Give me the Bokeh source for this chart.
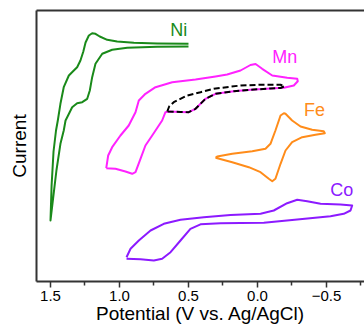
from bokeh.plotting import figure
from bokeh.models import Range1d, FixedTicker, LinearAxis, CustomJSTickFormatter, ColumnDataSource
from bokeh.core.properties import value
from bokeh.embed import file_html
from bokeh.resources import INLINE

FONT = "Liberation Sans"

# Potential (V vs. Ag/AgCl) and current (a.u.)
ni_E = [0.500, 0.727, 0.896, 1.017, 1.089, 1.143, 1.174, 1.198, 1.222, 1.246, 1.262, 1.283,
        1.307, 1.331, 1.367, 1.404, 1.428, 1.447, 1.460, 1.478, 1.492, 1.500,
        1.480, 1.457, 1.428, 1.404, 1.391, 1.379, 1.343, 1.307, 1.270, 1.234, 1.215,
        1.198, 1.174, 1.125, 1.053, 0.944, 0.727, 0.500]
ni_I = [237.7, 238.0, 238.7, 240.0, 241.7, 245.0, 247.7, 248.3, 246.0, 239.0, 230.0, 221.0,
        214.3, 211.0, 206.0, 194.3, 177.7, 161.0, 151.0, 130.0, 96.0, 61.0,
        84.3, 111.0, 137.7, 151.0, 161.0, 164.3, 174.3, 178.3, 179.3, 182.7, 191.0,
        204.3, 217.7, 227.7, 231.7, 233.7, 234.7, 235.0]

mn_E = [1.096, 1.029, 0.957, 0.908, 0.884, 0.848, 0.812, 0.763, 0.715, 0.691, 0.667, 0.643,
        0.558, 0.498, 0.449, 0.413, 0.377, 0.304, 0.172, 0.051, -0.094, -0.191, -0.263,
        -0.292, -0.288, -0.215, -0.107, -0.034, 0.014, 0.051, 0.123, 0.220, 0.304, 0.449,
        0.618, 0.739, 0.812, 0.860, 0.884, 0.933, 0.993, 1.053, 1.082, 1.096]
mn_I = [113.3, 112.7, 110.0, 107.7, 109.3, 122.7, 136.0, 146.0, 156.0, 161.0, 169.3, 170.0,
        169.5, 169.3, 172.7, 177.7, 182.7, 187.7, 190.3, 191.7, 193.0, 193.7, 196.0,
        200.3, 202.7, 203.7, 206.0, 212.7, 217.5, 216.5, 211.0, 207.0, 205.0, 202.0,
        199.3, 194.3, 187.7, 181.0, 169.3, 156.0, 146.0, 134.3, 126.0, 113.3]

mn2_E = [0.654, 0.640, 0.607, 0.509, 0.413, 0.317, 0.123, -0.022, -0.167, -0.196, -0.167,
         -0.094, 0.051, 0.172, 0.304, 0.377, 0.413, 0.449, 0.498, 0.558, 0.654]
mn2_I = [170.0, 175.0, 179.3, 186.0, 189.3, 192.7, 196.0, 196.7, 196.7, 195.3, 193.5,
         193.0, 191.7, 190.3, 187.7, 182.7, 177.7, 172.7, 169.3, 169.5, 170.0]

fe_E = [0.304, 0.183, 0.063, -0.022, -0.082, -0.107, -0.130, -0.167, -0.203, -0.251, -0.324,
        -0.420, -0.488, -0.480, -0.396, -0.312, -0.251, -0.203, -0.191, -0.167, -0.130,
        -0.094, -0.058, 0.038, 0.183, 0.292, 0.304]
fe_I = [123.7, 119.3, 114.3, 109.3, 102.7, 100.3, 102.7, 117.7, 131.0, 139.3, 144.3,
        146.7, 148.3, 150.3, 151.7, 155.0, 161.0, 167.7, 168.3, 166.0, 151.0,
        137.7, 132.7, 130.3, 127.7, 125.0, 123.7]

co_E = [0.949, 0.848, 0.751, 0.691, 0.630, 0.558, 0.486, 0.413, 0.268, 0.123, -0.046,
        -0.288, -0.529, -0.625, -0.674, -0.686, -0.601, -0.457, -0.360, -0.288, -0.215,
        -0.118, -0.022, 0.196, 0.389, 0.558, 0.679, 0.775, 0.860, 0.920, 0.949]
co_I = [22.7, 22.2, 21.0, 22.7, 29.3, 41.0, 52.7, 57.2, 58.3, 58.5, 58.7,
        62.0, 65.3, 67.7, 71.0, 76.0, 77.0, 77.7, 80.3, 81.7, 78.3,
        71.0, 67.7, 66.5, 64.3, 61.7, 57.7, 51.0, 41.0, 32.7, 24.3]

lab_names = ["Ni", "Mn", "Fe", "Co"]
lab_E = [0.570, -0.197, -0.414, -0.611]
lab_I = [251.3, 224.7, 171.3, 91.3]
colors = ["#1a8a1a", "#ff22ff", "#ff8c1a", "#8c1aff"]

x_ticks = [1.5, 1.0, 0.5, 0.0, -0.5]
x_minor = [1.25, 0.75, 0.25, -0.25, -0.75]

p = figure(width=364, height=327, x_range=Range1d(1.6014, -0.7754), y_range=Range1d(0, 271),
           output_backend="svg", toolbar_location=None,
           min_border_left=36, min_border_right=0, min_border_top=10, min_border_bottom=46)
p.outline_line_color = None
p.grid.visible = False
p.background_fill_color = "white"
p.border_fill_color = "white"

AX = "#333333"
xa = p.xaxis[0]
xa.ticker = FixedTicker(ticks=x_ticks, minor_ticks=x_minor)
xa.formatter = CustomJSTickFormatter(code="return tick < 0 ? '\u2212' + (-tick).toFixed(1) : tick.toFixed(1);")
xa.axis_line_width = 2
xa.axis_line_color = AX
xa.major_tick_line_color = AX
xa.minor_tick_line_color = AX
xa.major_tick_line_width = 1.5
xa.minor_tick_line_width = 1.5
xa.major_tick_out = 6
xa.major_tick_in = 0
xa.minor_tick_out = 4
xa.minor_tick_in = 0
xa.major_label_standoff = 3
xa.major_label_text_font = FONT
xa.major_label_text_font_size = "15px"
xa.major_label_text_color = "black"
xa.axis_label = "Potential (V vs. Ag/AgCl)"
xa.axis_label_standoff = -1
xa.axis_label_text_font = FONT
xa.axis_label_text_font_size = "19px"
xa.axis_label_text_font_style = "normal"
xa.axis_label_text_color = "black"

ya = p.yaxis[0]
ya.ticker = FixedTicker(ticks=[])
ya.axis_line_width = 2
ya.axis_line_color = AX
ya.major_tick_out = 0
ya.major_tick_in = 0
ya.minor_tick_out = 0
ya.minor_tick_in = 0
ya.major_label_standoff = 0
ya.axis_label = "Current"
ya.axis_label_standoff = 7
ya.axis_label_text_font = FONT
ya.axis_label_text_font_size = "19px"
ya.axis_label_text_font_style = "normal"
ya.axis_label_text_color = "black"

top = LinearAxis(ticker=FixedTicker(ticks=[]), axis_line_width=2, axis_line_color=AX,
                 major_tick_out=0, major_tick_in=0, minor_tick_out=0, minor_tick_in=0,
                 major_label_standoff=0)
p.add_layout(top, "above")

p.line(ni_E, ni_I, line_color=colors[0], line_width=2, line_join="round")
p.line(mn_E, mn_I, line_color=colors[1], line_width=2, line_join="round")
p.line(mn2_E, mn2_I, line_color="black", line_width=2, line_dash="6 3")
p.line(fe_E, fe_I, line_color=colors[2], line_width=2, line_join="round")
p.line(co_E, co_I, line_color=colors[3], line_width=2, line_join="round")

src = ColumnDataSource(dict(x=lab_E, y=lab_I, t=lab_names, c=colors))
p.text(x="x", y="y", text="t", text_color="c", source=src, text_font=value(FONT),
       text_font_size="18px", text_align="center", text_baseline="alphabetic")

open("out.html", "w").write(file_html(p, INLINE))
